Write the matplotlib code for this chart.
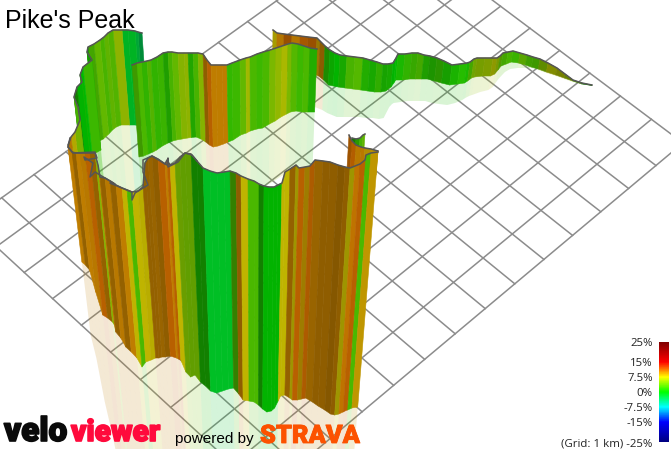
import numpy as np
import matplotlib
matplotlib.use('Agg')
import matplotlib.pyplot as plt
import matplotlib.patheffects as pe
from matplotlib.cm import ScalarMappable
from matplotlib.collections import PolyCollection
from matplotlib.colors import LinearSegmentedColormap, Normalize

title = "Pike's Peak"

## colour scale of the gradient legend
legend_ticks = [-25, -15, -7.5, 0, 7.5, 15, 25]
legend_labels = ['(Grid: 1 km) -25%', '-15%', '-7.5%', '0%', '7.5%', '15%', '25%']
legend_colors = ['#000080', '#0000ff', '#00ffff', '#00ff00', '#ffff00', '#ff0000', '#800000']

## ground grid, 14 x 10 cells of 1 km, some crossings
grid_cells_i = 14
grid_cells_j = 10
cross_i = [1, 3, 7, 11, 0, 0, 0, 1, 1, 13, 5, 14, 14, 14]
cross_j = [0, 0, 0, 0, 1, 3, 5, 3, 7, 10, 10, 4, 7, 2]
cross_x = [656, 601, 485, 362, 652, 588, 530, 563, 445, 1, 248, 140, 53, 202]
cross_y = [166, 212, 309, 412, 119, 73, 28, 94, 5, 198, 22, 380, 298, 435]

## point where the vertical walls converge
nadir_x, nadir_y = 255, 1700

## far ribbon up to the summit
ribbon_x = [273, 277, 284, 292, 300, 308, 317, 320, 325, 330, 335, 340, 347, 355, 363, 370, 377, 383, 388, 393,
            396, 398, 405, 412, 418, 424, 430, 437, 444, 452, 460, 467, 470, 474, 477, 485, 493, 497, 500, 503,
            508, 513, 520, 527, 533, 540, 548, 557, 565, 573, 582, 592]
ribbon_top = [30, 33, 34, 35, 36, 37, 38, 41, 46, 50, 53, 55, 56, 57, 58, 60, 62, 64, 64, 63,
              58, 54, 54, 53, 53, 55, 56, 58, 61, 65, 64, 63, 62, 59, 58, 58, 58, 58, 56, 53,
              52, 51, 53, 55, 57, 59, 63, 68, 74, 80, 83, 85]
ribbon_mid = [70, 70, 71, 72, 72, 73, 75, 76, 80, 85, 86, 87, 88, 89, 90, 91, 92, 92, 91, 87,
              83, 80, 80, 79, 79, 79, 79, 81, 83, 85, 84, 83, 81, 78, 77, 76, 76, 74, 70, 66,
              64, 62, 63, 65, 67, 69, 72, 75, 78, 81, 84, 85.5]
ribbon_gnd = [100, 100, 100, 102, 103, 105, 107, 108, 110, 113, 115, 117, 117, 117, 117, 118, 118, 119, 118, 107,
              104, 103, 102, 101, 101, 101, 101, 103, 104, 105, 103, 100, 98, 96, 95, 92, 90, 87, 82, 78,
              72, 69, 68, 68, 68, 70, 73, 76, 79, 82, 84, 86]
ribbon_grade = [8, 10, 11, 10, 11, 11, 9, 10, 1.5, 0.5, 0, 1, 3, 3.5, 1.5, 1, 2, 1, 1, 0,
                0, 1, 2, 2.5, 3, 1.5, 1.5, 2, 1, 1, 1.5, 1, 3, 5, 5.5, 6, 7, 6, 4, 3,
                3, 2.5, 4, 3, 3, 5, 7, 7, 6, 4, 1]
ribbon_shade = [.65, .7, .6, .7, .65, .6, .6, .55, .55, .65, .7, .66, .7, .72, .68, .66, .68, .64, .66, .7,
                .72, .72, .7, .66, .66, .62, .58, .58, .62, .7, .74, .72, .66, .65, .62, .62, .6, .6, .6, .65,
                .7, .7, .65, .62, .6, .55, .55, .5, .5, .5, .45]

## back left wall, runs right to left and doubles back on itself
left_x = [142, 138, 135, 128, 122, 113, 108, 104, 100, 94, 88, 87, 92, 83, 80, 82, 77, 74, 78, 80, 75, 71, 68]
left_top = [33, 32, 31, 30, 30, 30, 33, 37, 40, 44, 47, 52, 60, 67, 75, 82, 87, 97, 107, 120, 132, 137, 145]
left_mid = [126, 126, 126, 125, 125, 125, 127, 130, 134, 139, 142, 150, 150, 155, 160, 160, 165, 165, 165, 165, 165, 165, 165]
left_gnd = [205, 205, 205, 205, 205, 205, 205, 206, 208, 212, 215, 220, 220, 225, 230, 230, 235, 235, 235, 235, 235, 235, 235]
left_grade = [-3, -2.5, -1.5, -1.5, 6, 3.5, 4, 3, 4, 3, 0, 1, 2.5, 0, 3, 0, 1, 3, 3, 5, 8, 10]
left_shade = [.55, .65, .7, .7, .7, .7, .7, .7, .72, .65, .55, .6, .72, .72, .7, .7, .5, .7, .7, .7, .7, .7]

## middle wall
mid_x = [132, 137, 142, 147, 151, 157, 163, 168, 172, 178, 184, 188, 193, 198, 203, 207, 211, 216, 222, 227,
         232, 240, 246, 250, 257, 263, 270, 276, 282, 288, 292, 298, 304, 310, 317]
mid_top = [65, 63, 62, 61, 60, 57, 53, 52, 52, 53, 53, 53, 53, 53, 54, 60, 65, 65, 65, 65,
           63, 60, 58, 57, 54, 52, 50, 48, 46, 44, 43, 44, 46, 48, 49]
mid_mid = [157, 156, 154, 152, 150, 146, 143, 141, 140, 139, 138, 137.5, 137, 139, 142, 145, 147, 146, 144, 142,
           140, 135, 133, 131, 129, 128, 124, 121, 117, 114, 112, 111, 112, 112, 112]
mid_gnd = [217, 216, 214, 212, 210, 206, 203, 201, 200, 199, 198, 197, 197, 199, 202, 205, 207, 206, 204, 202,
           200, 195, 193, 191, 189, 188, 184, 181, 177, 174, 172, 171, 172, 172, 172]
mid_grade = [3, 3, 2, 3.5, 2, 2.5, 1.5, 3, 4, 5.5, 6, 1.5, 3, 5.5, 10, 11, 10, 10, 10, 2,
             2.5, 4, 6.5, 3, 2.5, 3, 5, 6, 7, 5, 3.5, 2.5, 3, 1.5]
mid_shade = [.6, .72, .7, .7, .7, .7, .62, .7, .72, .7, .7, .65, .7, .7, .56, .72, .75, .75, .75, .72,
             .72, .72, .72, .72, .72, .72, .72, .72, .72, .72, .72, .72, .72, .68]

## small spur behind the front wall
spur_back_x = [352, 356, 360, 363, 365]
spur_back_top = [138, 139, 138, 135, 134]
spur_back_mid = [152, 152, 152, 152, 152]
spur_back_grade = [1, 2, 3, 4]
spur_back_shade = [.5, .6, .7, .7]
spur_x = [349, 352, 356, 361, 365, 371, 378]
spur_top = [135, 141, 145, 147, 148, 149, 151]
spur_mid = [175, 175, 175, 175, 175, 175, 175]
spur_grade = [11, 11, 10, 10, 9, 9]
spur_shade = [.62, .7, .72, .72, .7, .72]

## front wall
front_x = [68, 72, 76, 80, 85, 90, 95, 98, 100, 105, 110, 116, 122, 127, 132, 138, 143, 145, 148, 152,
           158, 165, 167, 170, 175, 180, 185, 191, 197, 203, 210, 217, 224, 230, 236, 241, 248, 254, 259, 264,
           269, 274, 278, 282, 285, 290, 296, 299, 305, 310, 315, 323, 330, 338, 345, 350, 355, 360, 365, 366,
           371, 378]
front_top = [147, 152, 153, 153, 153, 153, 153, 165, 177, 178, 181, 185, 188, 190, 192, 191, 187, 163, 158, 156,
             159, 164, 160, 165, 163, 157, 153, 154, 161, 168, 171, 173, 172, 171, 173, 176, 179, 181, 184, 186,
             187, 187, 185, 183, 172, 169, 165, 168, 167, 166, 160, 161, 162, 165, 167, 168, 166, 164, 160, 155,
             153, 152]
front_mid = [262, 265, 270, 292, 315, 318, 322, 325, 332, 338, 347, 352, 358, 367, 362, 360, 358, 358, 357, 357,
             356, 358, 359, 360, 372, 377, 375, 382, 386, 391, 393, 391, 389, 388, 394, 400, 401, 402, 405, 409,
             412, 411, 408, 401, 396, 395, 398, 400, 400, 399, 398, 402, 406, 410, 414, 415, 414, 412, 410, 410,
             408, 407]
front_gnd = [335, 358, 402, 430, 470, 470, 470, 470, 470, 470, 470, 470, 470, 470, 470, 470, 470, 470, 470, 470,
             470, 470, 470, 470, 470, 470, 470, 470, 470, 470, 470, 470, 470, 470, 470, 470, 470, 470, 470, 470,
             470, 470, 470, 470, 470, 470, 470, 470, 470, 470, 470, 470, 470, 470, 470, 470, 470, 470, 470, 470,
             470, 470]
front_grade = [10, 10, 10, 10, 11, 10, 5.5, 10, 10, 10, 10, 10, 8, 3, 8, 8, 10, 10, 10, 10,
               11, 10, 11, 8, 5, 4.5, 4.5, 1, 1, -1.5, -1.5, -1.5, -1.5, 3, 10, 8, 3, 3, 1, 0,
               0, 0, 0, 8, 8, 10, 8, 11, 9, 11, 10, 10, 10, 10, 10, 8, 10.5, 11, 11, 3,
               9]
front_shade = [.75, .58, .75, .72, .72, .58, .7, .75, .58, .72, .58, .75, .75, .72, .75, .72, .58, .58, .6, .56,
               .72, .75, .72, .75, .62, .62, .62, .5, .5, .75, .75, .75, .75, .5, .56, .75, .72, .72, .5, .7,
               .7, .7, .7, .75, .75, .58, .62, .72, .62, .68, .6, .56, .56, .52, .56, .62, .75, .72, .72, .72,
               .75]

## tangled start of the front wall outline
tangle_x = [70, 68, 73, 95, 97, 85, 84, 93, 90, 95, 105, 112, 115, 110, 122, 132, 132, 135, 143, 148, 143, 143,
            152, 167, 168, 168, 178, 185, 192, 197]
tangle_y = [138, 147, 153, 152, 158, 160, 157, 163, 177, 172, 178, 182, 184, 183, 188, 192, 200, 193, 188, 185, 172, 160,
            156, 165, 158, 167, 162, 153, 155, 161]

line_col = '#555555'
grid_col = '#8c8c8c'

cmap = LinearSegmentedColormap.from_list(
    'grade', [((t + 25) / 50, c) for t, c in zip(legend_ticks, legend_colors)])
norm = Normalize(-25, 25)


def fit_grid(i, j, x, y):
    ## least squares homography from grid index to picture
    rows = []
    for a, b, u, v in zip(i, j, x, y):
        rows.append([a, b, 1, 0, 0, 0, -u * a, -u * b, -u])
        rows.append([0, 0, 0, a, b, 1, -v * a, -v * b, -v])
    h = np.linalg.svd(np.array(rows, dtype=float))[2][-1]
    return h.reshape(3, 3)


def project(h, i, j):
    p = h @ np.array([i, j, 1.0])
    return p[0] / p[2], p[1] / p[2]


def lean(x, y0, y1):
    return nadir_x + (x - nadir_x) * (nadir_y - y1) / (nadir_y - y0)


def strips(ax, x, y0, y1, grade, shade, alpha=None, z=2):
    polys = []
    cols = []
    for k in range(len(x) - 1):
        polys.append([(x[k], y0[k]), (x[k + 1], y0[k + 1]),
                      (lean(x[k + 1], y0[k + 1], y1[k + 1]), y1[k + 1]),
                      (lean(x[k], y0[k], y1[k]), y1[k])])
        r, g, b, _ = cmap(norm(grade[k]))
        cols.append((r * shade[k], g * shade[k], b * shade[k], 1 if alpha is None else alpha))
    if alpha is None:
        pc = PolyCollection(polys, facecolors=cols, edgecolors=cols, linewidths=0.4, zorder=z)
    else:
        pc = PolyCollection(polys, facecolors=cols, edgecolors='none', zorder=z)
    ax.add_collection(pc)


def wall(ax, x, top, mid, gnd, grade, shade, z):
    ## faded part down to the ground, then the wall itself with its outline
    if gnd is not None:
        strips(ax, [lean(a, t, m) for a, t, m in zip(x, top, mid)], mid, gnd, grade, [.75] * len(grade), alpha=0.17, z=z)
    strips(ax, x, top, mid, grade, shade, z=z + 0.1)
    ax.plot(x, top, color=line_col, lw=1.1, solid_joinstyle='round', zorder=z + 0.2)


fig = plt.figure(figsize=(6.71, 4.49), dpi=100)
ax = fig.add_axes([0, 0, 1, 1])
ax.set_xlim(0, 671)
ax.set_ylim(449, 0)
ax.axis('off')

## ground grid
h = fit_grid(cross_i, cross_j, cross_x, cross_y)
for i in range(grid_cells_i + 1):
    a = project(h, i, 0)
    b = project(h, i, grid_cells_j)
    ax.plot([a[0], b[0]], [a[1], b[1]], color=grid_col, lw=1.1, zorder=1)
for j in range(grid_cells_j + 1):
    a = project(h, 0, j)
    b = project(h, grid_cells_i, j)
    ax.plot([a[0], b[0]], [a[1], b[1]], color=grid_col, lw=1.1, zorder=1)

## back to front
wall(ax, ribbon_x, ribbon_top, ribbon_mid, ribbon_gnd, ribbon_grade, ribbon_shade, 2)
wall(ax, left_x, left_top, left_mid, left_gnd, left_grade, left_shade, 3)
wall(ax, mid_x, mid_top, mid_mid, mid_gnd, mid_grade, mid_shade, 4)
wall(ax, spur_back_x, spur_back_top, spur_back_mid, None, spur_back_grade, spur_back_shade, 5)
wall(ax, spur_x, spur_top, spur_mid, None, spur_grade, spur_shade, 5.5)
wall(ax, front_x, front_top, front_mid, front_gnd, front_grade, front_shade, 6)
ax.plot(tangle_x, tangle_y, color=line_col, lw=1.1, zorder=6.3)

ax.text(5, 28, title, family='Liberation Sans', fontsize=18, color='black', ha='left', va='baseline', zorder=9)

## logos as text
ax.text(4, 441, 'velo', family='Roboto', weight='black', fontsize=24, color='#0a0a0a',
        ha='left', va='baseline', zorder=9, path_effects=[pe.withStroke(linewidth=1.2, foreground='#0a0a0a')])
ax.text(71, 441, 'viewer', family='Roboto', weight='black', fontsize=21.5, color='#ff0a3c',
        ha='left', va='baseline', zorder=9, path_effects=[pe.withStroke(linewidth=1.2, foreground='#ff0a3c')])
ax.text(175, 443, 'powered by', family='Liberation Sans', fontsize=11, color='black',
        ha='left', va='baseline', zorder=9)
ax.text(260, 443, 'STRAVA', family='Roboto', weight='black', fontsize=18.3, color='#fc5200',
        ha='left', va='baseline', zorder=9, path_effects=[pe.withStroke(linewidth=0.6, foreground='#fc5200')])

## gradient legend
cax = fig.add_axes([659 / 671, 1 - 442 / 449, 10 / 671, 100 / 449])
cb = fig.colorbar(ScalarMappable(norm=norm, cmap=cmap), cax=cax, ticks=legend_ticks)
cb.outline.set_visible(False)
cax.yaxis.set_ticks_position('left')
cax.set_yticklabels(legend_labels, family='Open Sans', fontsize=8.2, color='#222222')
cax.tick_params(length=0, pad=4.5)

plt.savefig('out.png', dpi=100)
